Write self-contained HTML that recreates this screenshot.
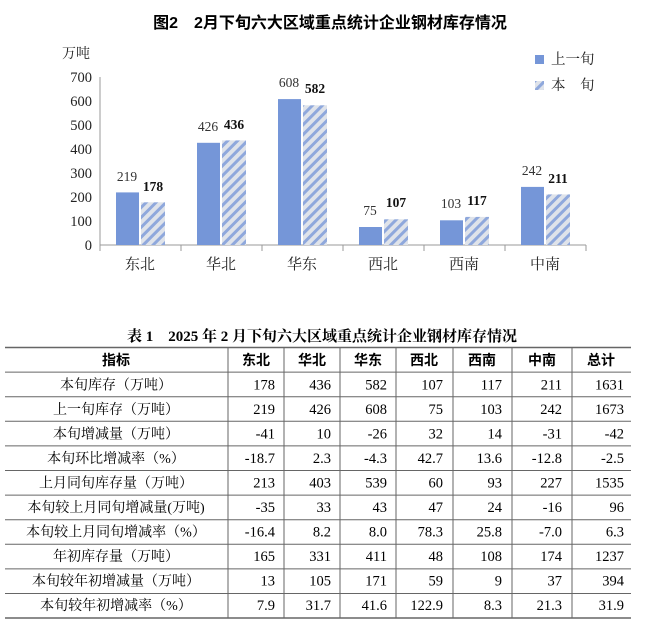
<!DOCTYPE html>
<html><head><meta charset="utf-8"><style>
body{margin:0;background:#fff;}
svg{display:block;font-family:"Liberation Serif","Noto Serif CJK SC",serif;}
.h{font-family:"Liberation Sans","Noto Sans CJK SC",sans-serif;font-weight:bold;}
</style></head><body>
<svg width="645" height="626" viewBox="0 0 645 626" xmlns="http://www.w3.org/2000/svg">
<defs>
<pattern id="st" patternUnits="userSpaceOnUse" width="7" height="7" patternTransform="rotate(45)">
<rect width="7" height="7" fill="#dfe3ea"/><rect width="3" height="7" fill="#8fa8dc"/>
</pattern>
</defs>
<text x="330" y="28" text-anchor="middle" font-size="16" class="h">图2　2月下旬六大区域重点统计企业钢材库存情况</text>
<text x="62" y="58" font-size="14" fill="#222">万吨</text>
<g font-size="14.5" text-anchor="end" fill="#222">
<text x="92" y="250">0</text><text x="92" y="226">100</text><text x="92" y="202">200</text><text x="92" y="178">300</text>
<text x="92" y="154">400</text><text x="92" y="130">500</text><text x="92" y="106">600</text><text x="92" y="82">700</text>
</g>
<line x1="100" y1="77" x2="100" y2="245" stroke="#999"/>
<line x1="100" y1="245" x2="586" y2="245" stroke="#999"/>
<g stroke="#999">
<line x1="100" y1="245" x2="100" y2="251"/><line x1="181" y1="245" x2="181" y2="251"/><line x1="262" y1="245" x2="262" y2="251"/>
<line x1="343" y1="245" x2="343" y2="251"/><line x1="424" y1="245" x2="424" y2="251"/><line x1="505" y1="245" x2="505" y2="251"/><line x1="586" y1="245" x2="586" y2="251"/>
</g>
<g fill="#7596d8">
<rect x="116" y="192.4" width="23" height="52.6"/>
<rect x="197" y="142.8" width="23" height="102.2"/>
<rect x="278" y="99.1" width="23" height="145.9"/>
<rect x="359" y="227" width="23" height="18"/>
<rect x="440" y="220.3" width="23" height="24.7"/>
<rect x="521" y="186.9" width="23" height="58.1"/>
</g>
<g fill="url(#st)">
<rect x="141" y="202.3" width="24" height="42.7"/>
<rect x="222" y="140.4" width="24" height="104.6"/>
<rect x="303" y="105.3" width="24" height="139.7"/>
<rect x="384" y="219.3" width="24" height="25.7"/>
<rect x="465" y="216.9" width="24" height="28.1"/>
<rect x="546" y="194.4" width="24" height="50.6"/>
</g>
<g font-size="13.5" text-anchor="middle" fill="#333">
<text x="127" y="181">219</text><text x="208" y="131">426</text><text x="289" y="87">608</text>
<text x="370" y="215">75</text><text x="451" y="208">103</text><text x="532" y="175">242</text>
</g>
<g font-size="13.5" text-anchor="middle" font-weight="bold" fill="#111">
<text x="153" y="191">178</text><text x="234" y="129">436</text><text x="315" y="93">582</text>
<text x="396" y="207">107</text><text x="477" y="205">117</text><text x="558" y="183">211</text>
</g>
<g font-size="15" text-anchor="middle" fill="#222">
<text x="140" y="269">东北</text><text x="221" y="269">华北</text><text x="302" y="269">华东</text>
<text x="383" y="269">西北</text><text x="464" y="269">西南</text><text x="545" y="269">中南</text>
</g>
<rect x="535" y="55" width="9" height="9" fill="#7596d8"/>
<rect x="535" y="81" width="9" height="9" fill="url(#st)"/>
<text x="551" y="64" font-size="14.5" fill="#222">上一旬</text>
<text x="551" y="90" font-size="14.5" fill="#222">本　旬</text>

<text x="322" y="341" text-anchor="middle" font-size="15" font-weight="bold">表 1　2025 年 2 月下旬六大区域重点统计企业钢材库存情况</text>
<g stroke="#666" stroke-width="1">
<line x1="5" y1="347.5" x2="631" y2="347.5" stroke-width="1.5"/>
<line x1="5" y1="618" x2="631" y2="618" stroke-width="1.5"/>
<line x1="5" y1="372.1" x2="631" y2="372.1"/><line x1="5" y1="396.7" x2="631" y2="396.7"/>
<line x1="5" y1="421.3" x2="631" y2="421.3"/><line x1="5" y1="445.9" x2="631" y2="445.9"/>
<line x1="5" y1="470.5" x2="631" y2="470.5"/><line x1="5" y1="495.1" x2="631" y2="495.1"/>
<line x1="5" y1="519.7" x2="631" y2="519.7"/><line x1="5" y1="544.3" x2="631" y2="544.3"/>
<line x1="5" y1="568.9" x2="631" y2="568.9"/><line x1="5" y1="593.5" x2="631" y2="593.5"/>
<line x1="228" y1="347" x2="228" y2="618"/><line x1="284" y1="347" x2="284" y2="618"/>
<line x1="340" y1="347" x2="340" y2="618"/><line x1="396" y1="347" x2="396" y2="618"/>
<line x1="453" y1="347" x2="453" y2="618"/><line x1="512" y1="347" x2="512" y2="618"/>
<line x1="572" y1="347" x2="572" y2="618"/>
</g>
<g font-size="14" font-weight="bold" text-anchor="middle" class="h">
<text x="116" y="365">指标</text><text x="256" y="365">东北</text><text x="312" y="365">华北</text><text x="368" y="365">华东</text>
<text x="424" y="365">西北</text><text x="482" y="365">西南</text><text x="542" y="365">中南</text><text x="601" y="365">总计</text>
</g>
<g font-size="14" text-anchor="middle">
<text x="116" y="389.5">本旬库存（万吨）</text>
<text x="116" y="414">上一旬库存（万吨）</text>
<text x="116" y="438.5">本旬增减量（万吨）</text>
<text x="116" y="463">本旬环比增减率（%）</text>
<text x="116" y="487.5">上月同旬库存量（万吨）</text>
<text x="116" y="512">本旬较上月同旬增减量(万吨)</text>
<text x="116" y="536.5">本旬较上月同旬增减率（%）</text>
<text x="116" y="561">年初库存量（万吨）</text>
<text x="116" y="585.5">本旬较年初增减量（万吨）</text>
<text x="116" y="610">本旬较年初增减率（%）</text>
</g>
<g font-size="14.5" text-anchor="end">
<text x="275" y="389.5">178</text><text x="331" y="389.5">436</text><text x="387" y="389.5">582</text><text x="443" y="389.5">107</text><text x="502" y="389.5">117</text><text x="562" y="389.5">211</text><text x="624" y="389.5">1631</text>
<text x="275" y="414">219</text><text x="331" y="414">426</text><text x="387" y="414">608</text><text x="443" y="414">75</text><text x="502" y="414">103</text><text x="562" y="414">242</text><text x="624" y="414">1673</text>
<text x="275" y="438.5">-41</text><text x="331" y="438.5">10</text><text x="387" y="438.5">-26</text><text x="443" y="438.5">32</text><text x="502" y="438.5">14</text><text x="562" y="438.5">-31</text><text x="624" y="438.5">-42</text>
<text x="275" y="463">-18.7</text><text x="331" y="463">2.3</text><text x="387" y="463">-4.3</text><text x="443" y="463">42.7</text><text x="502" y="463">13.6</text><text x="562" y="463">-12.8</text><text x="624" y="463">-2.5</text>
<text x="275" y="487.5">213</text><text x="331" y="487.5">403</text><text x="387" y="487.5">539</text><text x="443" y="487.5">60</text><text x="502" y="487.5">93</text><text x="562" y="487.5">227</text><text x="624" y="487.5">1535</text>
<text x="275" y="512">-35</text><text x="331" y="512">33</text><text x="387" y="512">43</text><text x="443" y="512">47</text><text x="502" y="512">24</text><text x="562" y="512">-16</text><text x="624" y="512">96</text>
<text x="275" y="536.5">-16.4</text><text x="331" y="536.5">8.2</text><text x="387" y="536.5">8.0</text><text x="443" y="536.5">78.3</text><text x="502" y="536.5">25.8</text><text x="562" y="536.5">-7.0</text><text x="624" y="536.5">6.3</text>
<text x="275" y="561">165</text><text x="331" y="561">331</text><text x="387" y="561">411</text><text x="443" y="561">48</text><text x="502" y="561">108</text><text x="562" y="561">174</text><text x="624" y="561">1237</text>
<text x="275" y="585.5">13</text><text x="331" y="585.5">105</text><text x="387" y="585.5">171</text><text x="443" y="585.5">59</text><text x="502" y="585.5">9</text><text x="562" y="585.5">37</text><text x="624" y="585.5">394</text>
<text x="275" y="610">7.9</text><text x="331" y="610">31.7</text><text x="387" y="610">41.6</text><text x="443" y="610">122.9</text><text x="502" y="610">8.3</text><text x="562" y="610">21.3</text><text x="624" y="610">31.9</text>
</g>
</svg>
</body></html>
